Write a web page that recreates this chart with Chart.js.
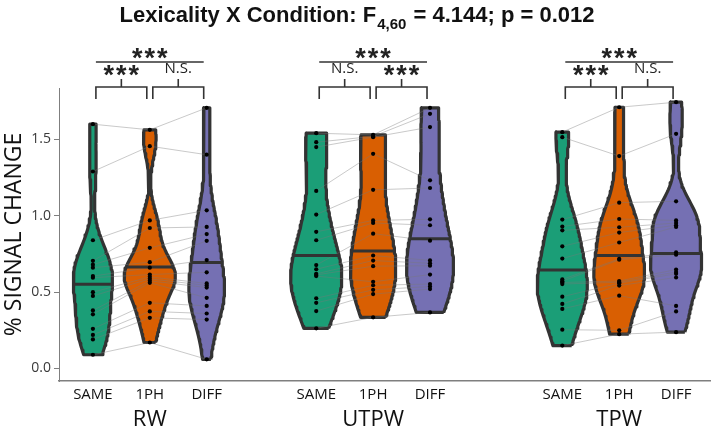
<!DOCTYPE html>
<html>
<head>
<meta charset="utf-8">
<script src="https://cdn.jsdelivr.net/npm/chart.js@4.4.0/dist/chart.umd.min.js"></script>
<style>
  html, body { margin: 0; padding: 0; background: #fff; }
  #wrap { width: 714px; height: 429px; }
</style>
</head>
<body>
<div id="wrap"><canvas id="chart" width="714" height="429"></canvas></div>
<script>
// groups / conditions
const groups = ["RW", "UTPW", "TPW"];
const conditions = ["SAME", "1PH", "DIFF"];
const condColors = ["#1b9e77", "#d95f02", "#7570b3"];

// % signal change per subject (16), same index = same subject
const rwSame   = [1.60, 1.29, 0.84, 0.705, 0.68, 0.66, 0.605, 0.595, 0.50, 0.475, 0.38, 0.355, 0.26, 0.22, 0.19, 0.09];
const rw1ph    = [1.563, 1.456, 0.97, 0.92, 0.79, 0.696, 0.66, 0.615, 0.60, 0.587, 0.574, 0.561, 0.43, 0.374, 0.332, 0.17];
const rwDiff   = [1.707, 1.40, 1.036, 0.927, 0.88, 0.836, 0.71, 0.63, 0.557, 0.544, 0.53, 0.463, 0.41, 0.36, 0.32, 0.06];
const utpwSame = [1.541, 1.482, 1.45, 1.163, 1.008, 0.895, 0.84, 0.677, 0.65, 0.62, 0.613, 0.605, 0.46, 0.43, 0.376, 0.263];
const utpw1ph  = [1.53, 1.52, 1.515, 1.406, 1.17, 0.97, 0.953, 0.883, 0.74, 0.707, 0.67, 0.568, 0.545, 0.515, 0.487, 0.335];
const utpwDiff = [1.707, 1.668, 1.581, 1.232, 1.182, 0.977, 0.938, 0.837, 0.708, 0.689, 0.673, 0.615, 0.553, 0.537, 0.52, 0.367];
const tpwSame  = [1.548, 1.515, 0.975, 0.93, 0.905, 0.80, 0.72, 0.583, 0.572, 0.563, 0.553, 0.47, 0.423, 0.39, 0.254, 0.15];
const tpw1ph   = [1.711, 1.391, 1.086, 0.979, 0.925, 0.89, 0.825, 0.718, 0.712, 0.573, 0.565, 0.559, 0.543, 0.477, 0.25, 0.225];
const tpwDiff  = [1.744, 1.537, 1.095, 0.97, 0.953, 0.938, 0.927, 0.76, 0.745, 0.648, 0.632, 0.62, 0.596, 0.41, 0.374, 0.238];

// median lines as drawn in the figure
const rwMedians   = [0.552, 0.665, 0.694];
const utpwMedians = [0.74, 0.77, 0.85];
const tpwMedians  = [0.645, 0.74, 0.753];

// significance labels: [SAME vs 1PH, 1PH vs DIFF], and SAME vs DIFF
const pairLabels = [["***", "N.S."], ["N.S.", "***"], ["***", "N.S."]];
const overallLabels = ["***", "***", "***"];

const yTicks = [0, 0.5, 1.0, 1.5];
const titleMain = "Lexicality X Condition: F";
const titleSub = "4,60";
const titleTail = " = 4.144; p = 0.012";

const seriesByGroup = [[rwSame, rw1ph, rwDiff], [utpwSame, utpw1ph, utpwDiff], [tpwSame, tpw1ph, tpwDiff]];
const mediansByGroup = [rwMedians, utpwMedians, tpwMedians];

// layout: x position of first condition of each group
const groupStart = [0, 3.925, 8.25];
const xPos = (g, c) => groupStart[g] + c;

// gaussian kernel density, bandwidth like R's bw.nrd0
function bandwidth(v) {
  const n = v.length;
  const s = [...v].sort((a, b) => a - b);
  const mean = v.reduce((a, b) => a + b, 0) / n;
  const sd = Math.sqrt(v.reduce((a, b) => a + (b - mean) ** 2, 0) / (n - 1));
  const q = p => { const h = (n - 1) * p, lo = Math.floor(h); return s[lo] + (h - lo) * (s[Math.min(lo + 1, n - 1)] - s[lo]); };
  const iqr = q(0.75) - q(0.25);
  return 0.9 * Math.min(sd, iqr / 1.34) * Math.pow(n, -0.2);
}
function density(v, bw, y) {
  let d = 0;
  for (const x of v) { const z = (y - x) / bw; d += Math.exp(-0.5 * z * z); }
  return d / (v.length * bw * Math.sqrt(2 * Math.PI));
}

const profiles = seriesByGroup.map(gs => gs.map(v => {
  const bw = bandwidth(v);
  const lo = Math.min(...v), hi = Math.max(...v);
  const pts = [];
  for (let i = 0; i <= 100; i++) {
    const y = lo + (hi - lo) * i / 100;
    pts.push({ y, d: density(v, bw, y) });
  }
  return { v, bw, pts };
}));
// each group is scaled on its own (area scaling inside the group)
const groupMaxD = profiles.map(gp => Math.max(...gp.flatMap(p => p.pts.map(q => q.d))));
const halfW = (g, d) => d / groupMaxD[g] * 0.45;

const datasets = [];
// dots
const dots = [];
seriesByGroup.forEach((gs, g) => gs.forEach((v, c) => v.forEach(val => dots.push({ x: xPos(g, c), y: val }))));
datasets.push({
  type: "scatter", data: dots, order: 0,
  pointRadius: 2.1, pointBackgroundColor: "#000", pointBorderWidth: 0
});
// medians
mediansByGroup.forEach((ms, g) => ms.forEach((m, c) => {
  const p = profiles[g][c];
  const w = halfW(g, density(p.v, p.bw, m));
  datasets.push({
    type: "line", order: 1, data: [{ x: xPos(g, c) - w, y: m }, { x: xPos(g, c) + w, y: m }],
    borderColor: "#333", borderWidth: 3, pointRadius: 0, fill: false
  });
}));
// subject lines
seriesByGroup.forEach((gs, g) => {
  gs[0].forEach((_, s) => {
    datasets.push({
      type: "line", order: 2,
      data: gs.map((v, c) => ({ x: xPos(g, c), y: v[s] })),
      borderColor: "rgba(120,120,120,0.5)", borderWidth: 0.8, pointRadius: 0, fill: false
    });
  });
});
// violins
profiles.forEach((gp, g) => gp.forEach((prof, c) => {
  const cx = xPos(g, c);
  const right = prof.pts.map(p => ({ x: cx + halfW(g, p.d), y: p.y }));
  const left = prof.pts.slice().reverse().map(p => ({ x: cx - halfW(g, p.d), y: p.y }));
  datasets.push({
    type: "line", order: 3, data: [...right, ...left, right[0]],
    borderColor: "#333", borderWidth: 3.2, borderJoinStyle: "round",
    backgroundColor: condColors[c], fill: "shape", pointRadius: 0, tension: 0
  });
}));

const xMin = -0.596, xMax = 10.846;

const annotate = {
  id: "annotate",
  afterDraw(chart) {
    const { ctx, chartArea, scales } = chart;
    ctx.save();
    // title with subscript
    ctx.fillStyle = "#111";
    ctx.textBaseline = "alphabetic";
    const big = "bold 22px 'Liberation Sans', Arial, sans-serif";
    const small = "bold 15px 'Liberation Sans', Arial, sans-serif";
    ctx.font = big; const w1 = ctx.measureText(titleMain).width, w3 = ctx.measureText(titleTail).width;
    ctx.font = small; const w2 = ctx.measureText(titleSub).width + 2;
    let tx = 357 - (w1 + w2 + w3) / 2;
    ctx.font = big; ctx.textAlign = "left"; ctx.fillText(titleMain, tx, 22);
    ctx.font = small; ctx.fillText(titleSub, tx + w1 + 1, 29);
    ctx.font = big; ctx.fillText(titleTail, tx + w1 + w2, 22);

    // brackets
    const top = chartArea.top;
    ctx.strokeStyle = "#333"; ctx.lineWidth = 1.6;
    const sig = (txt, x, y) => {
      ctx.textAlign = "center"; ctx.textBaseline = "middle"; ctx.fillStyle = "#222";
      if (txt === "N.S.") { ctx.font = "15px 'Open Sans', sans-serif"; ctx.fillText(txt, x, y - 1); return; }
      ctx.font = "bold 27px 'Liberation Sans', Arial, sans-serif";
      const n = txt.length;
      for (let i = 0; i < n; i++) ctx.fillText("*", x + (i - (n - 1) / 2) * 12.5, y + 7);
    };
    groups.forEach((g, gi) => {
      const c = conditions.map((_, ci) => scales.x.getPixelForValue(xPos(gi, ci)));
      [[0, 1], [1, 2]].forEach(([a, b], k) => {
        const x0 = c[a] + 3, x1 = c[b] - 3, xm = (c[a] + c[b]) / 2;
        ctx.beginPath();
        ctx.moveTo(x0, top + 11); ctx.lineTo(x0, top - 1); ctx.lineTo(x1, top - 1); ctx.lineTo(x1, top + 11);
        ctx.moveTo(xm, top - 1); ctx.lineTo(xm, top - 9);
        ctx.stroke();
        sig(pairLabels[gi][k], xm, top - 18);
      });
      ctx.beginPath(); ctx.moveTo(c[0] + 3, top - 26); ctx.lineTo(c[2] - 3, top - 26); ctx.stroke();
      sig(overallLabels[gi], c[1], top - 35);
    });
    ctx.restore();
  }
};

new Chart(document.getElementById("chart"), {
  type: "scatter",
  data: { datasets },
  options: {
    responsive: false,
    animation: false,
    layout: { padding: { top: 88, right: 2, left: 0, bottom: 0 } },
    plugins: { legend: { display: false }, tooltip: { enabled: false } },
    scales: {
      x: {
        type: "linear", position: "bottom", min: xMin, max: xMax, weight: 0,
        afterBuildTicks: s => { s.ticks = groups.flatMap((_, g) => conditions.map((_, c) => ({ value: xPos(g, c) }))); },
        afterFit: s => { s.height = 22; },
        ticks: {
          autoSkip: false, maxRotation: 0, padding: -3, color: "#111",
          font: { family: "'Open Sans', sans-serif", size: 15 },
          callback: (v, i) => conditions[i % 3]
        },
        grid: { display: false },
        border: { display: true, color: "#7f7f7f", width: 1.5 }
      },
      x2: {
        type: "linear", position: "bottom", min: xMin, max: xMax, weight: 1,
        afterBuildTicks: s => { s.ticks = groups.map((_, g) => ({ value: xPos(g, 1) })); },
        afterFit: s => { s.height = 26; },
        ticks: {
          autoSkip: false, maxRotation: 0, padding: -4, color: "#111",
          font: { family: "'Open Sans', sans-serif", size: 22 },
          callback: (v, i) => groups[i]
        },
        grid: { display: false },
        border: { display: false }
      },
      y: {
        type: "linear", min: -0.082, max: 1.837,
        afterBuildTicks: s => { s.ticks = yTicks.map(v => ({ value: v })); },
        afterFit: s => { s.width = 59; },
        ticks: {
          padding: 3, color: "#3a3a3a",
          font: { family: "'Open Sans', sans-serif", size: 14 },
          callback: v => v.toFixed(1)
        },
        grid: { drawOnChartArea: false, tickLength: 5, tickColor: "#7f7f7f" },
        border: { display: true, color: "#7f7f7f", width: 1 },
        title: {
          display: true, text: "% SIGNAL CHANGE", color: "#111",
          font: { family: "'Open Sans', sans-serif", size: 23 },
          padding: { top: 1, bottom: 0 }
        }
      }
    }
  },
  plugins: [annotate]
});
</script>
</body>
</html>
